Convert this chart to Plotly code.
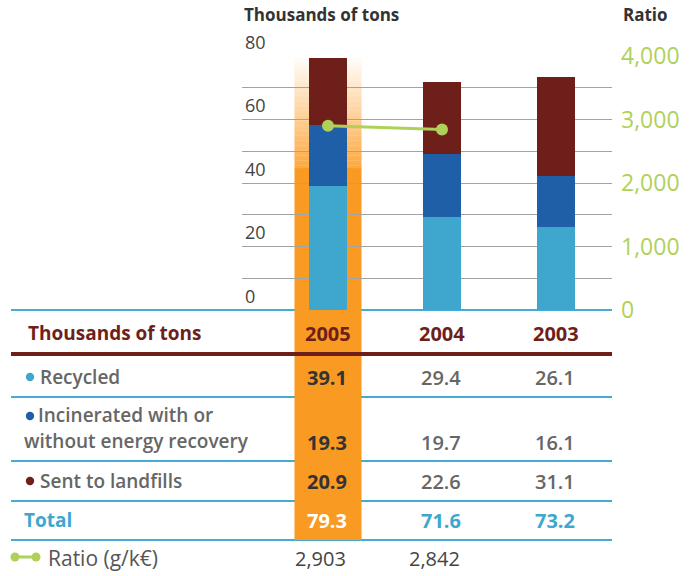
import plotly.graph_objects as go

# ---- data -------------------------------------------------------------
years = ["2005", "2004", "2003"]
recycled = [39.1, 29.4, 26.1]
incinerated = [19.3, 19.7, 16.1]
landfill = [20.9, 22.6, 31.1]
totals = [79.3, 71.6, 73.2]
ratio = [2903, 2842]
ratio_years = ["2005", "2004"]
ratio_labels = ["2,903", "2,842"]

left_ticks = [0, 20, 40, 60, 80]
grid_ticks = [10, 20, 30, 40, 50, 60, 70, 80]
right_ticks = [0, 1000, 2000, 3000, 4000]
right_tick_labels = ["0", "1,000", "2,000", "3,000", "4,000"]

# ---- styling ----------------------------------------------------------
W, H = 691, 576
C_RECYCLED = "#3FA7CD"
C_INCIN = "#1E5FA7"
C_LANDFILL = "#6E1F1A"
C_ORANGE = "#F99B22"
C_GREEN = "#AFD15A"
C_LINE_BLUE = "#45ABD3"
C_TEXT = "#666666"
C_DARK = "#333333"
FONT = "Open Sans"


def px(x):
    return x / W


def py(y):
    return 1 - y / H


fig = go.Figure()

fig.add_trace(go.Bar(x=years, y=recycled, name="Recycled",
                     marker=dict(color=C_RECYCLED, line=dict(width=0)), width=0.333))
fig.add_trace(go.Bar(x=years, y=incinerated, name="Incinerated",
                     marker=dict(color=C_INCIN, line=dict(width=0)), width=0.333))
fig.add_trace(go.Bar(x=years, y=landfill, name="Sent to landfills",
                     marker=dict(color=C_LANDFILL, line=dict(width=0)), width=0.333))
fig.add_trace(go.Scatter(x=ratio_years, y=ratio, yaxis="y2", mode="lines+markers",
                         line=dict(color=C_GREEN, width=3),
                         marker=dict(color=C_GREEN, size=12), name="Ratio"))

shapes = []

# table rule lines (blue), drawn beneath the highlighted column
for yy in [310, 397, 461, 501, 540]:
    shapes.append(dict(type="line", xref="paper", yref="paper",
                       x0=px(11), x1=px(612), y0=py(yy), y1=py(yy),
                       line=dict(color=C_LINE_BLUE, width=2), layer="below"))

# highlighted 2005 column: solid part plus a fading top
half = 0.294
shapes.append(dict(type="rect", xref="x", yref="paper",
                   x0=-half, x1=half, y0=py(540), y1=py(168),
                   fillcolor=C_ORANGE, line=dict(width=0), layer="below"))
n_strips = 44
top, bottom = 58.0, 168.0
c_top = (255, 253, 250)
c_bot = (253, 168, 64)
for i in range(n_strips):
    y0 = top + (bottom - top) * i / n_strips
    y1 = top + (bottom - top) * (i + 1) / n_strips
    t = (i + 0.5) / n_strips
    r, g, b = [round(a + (c - a) * t) for a, c in zip(c_top, c_bot)]
    shapes.append(dict(type="rect", xref="x", yref="paper",
                       x0=-half, x1=half, y0=py(y1 + 0.3), y1=py(y0),
                       fillcolor=f"rgb({r},{g},{b})", line=dict(width=0), layer="below"))

# header rule (dark red) over the column
shapes.append(dict(type="line", xref="paper", yref="paper",
                   x0=px(11), x1=px(612), y0=py(354), y1=py(354),
                   line=dict(color=C_LANDFILL, width=4), layer="below"))

# bullet dots of the row labels
for yy, col in [(377, C_RECYCLED), (416, C_INCIN), (481, C_LANDFILL)]:
    r = 4.2
    shapes.append(dict(type="circle", xref="paper", yref="paper",
                       x0=px(30 - r), x1=px(30 + r), y0=py(yy + r), y1=py(yy - r),
                       fillcolor=col, line=dict(width=0)))

# ratio legend icon
shapes.append(dict(type="line", xref="paper", yref="paper",
                   x0=px(12), x1=px(38), y0=py(557), y1=py(557),
                   line=dict(color=C_GREEN, width=3)))
for xx in [15, 36]:
    r = 4.5
    shapes.append(dict(type="circle", xref="paper", yref="paper",
                       x0=px(xx - r), x1=px(xx + r), y0=py(557 + r), y1=py(557 - r),
                       fillcolor=C_GREEN, line=dict(width=0)))

annotations = []


def note(text, x, y, size, color, weight="normal", xanchor="left", xref="paper", xshift=0):
    annotations.append(dict(text=text, x=x, y=py(y), xref=xref, yref="paper",
                            xanchor=xanchor, yanchor="middle", showarrow=False,
                            xshift=xshift,
                            font=dict(family=FONT, size=size, color=color, weight=weight)))


# axis titles
note("Thousands of tons", px(242), 14, 17, C_DARK, "bold")
note("Ratio", px(621), 14, 17, C_DARK, "bold")

# table header (columns follow the category positions of the x axis)
for i, yr in enumerate(years):
    note(yr, i, 333, 20, C_LANDFILL, "bold", xanchor="center", xref="x")
note("Thousands of tons", px(26), 333, 19, C_LANDFILL, "bold")

# row labels
note("Recycled", px(38), 377, 19, C_TEXT, 600)
note("Incinerated with or", px(36), 415, 19, C_TEXT, 600)
note("without energy recovery", px(22), 441, 19, C_TEXT, 600)
note("Sent to landfills", px(38), 481, 19, C_TEXT, 600)
note("Total", px(22), 520, 19, C_RECYCLED, "bold")
note("Ratio (g/k€)", px(46), 558, 21, "#555555", "normal")

# values, right-aligned on each column
rows = [(recycled, 377), (incinerated, 442), (landfill, 481)]
for vals, yy in rows:
    for i, v in enumerate(vals):
        if i == 0:
            note(f"{v:.1f}", i, yy, 20, C_DARK, "bold", xanchor="right", xref="x", xshift=21)
        else:
            note(f"{v:.1f}", i, yy, 20, C_TEXT, 600, xanchor="right", xref="x", xshift=21)
for i, v in enumerate(totals):
    note(f"{v:.1f}", i, 520, 20, "#FFFFFF" if i == 0 else C_RECYCLED, "bold",
         xanchor="right", xref="x", xshift=21)
for i, lab in enumerate(ratio_labels):
    note(lab, i, 558, 20, "#444444", "normal", xanchor="right", xref="x", xshift=20)

fig.update_layout(
    width=W, height=H, margin=dict(l=0, r=0, t=0, b=0),
    paper_bgcolor="white", plot_bgcolor="rgba(0,0,0,0)",
    barmode="stack", showlegend=False, bargap=0,
    shapes=shapes, annotations=annotations,
    xaxis=dict(domain=[px(242), px(612)], type="category",
               categoryorder="array", categoryarray=years,
               range=[-(328 - 242) / 114, (612 - 328) / 114],
               showticklabels=False, showgrid=False, zeroline=False,
               showline=False, ticks="", automargin=False),
    yaxis=dict(domain=[py(310), py(56)], range=[0, 80],
               tickvals=left_ticks, ticklabelposition="inside top",
               ticklabelshift=-1, ticklabeloverflow="allow", automargin=False,
               tickfont=dict(family=FONT, size=18, color="#444444"),
               showgrid=False, zeroline=False, showline=False, ticks="",
               minor=dict(tickvals=grid_ticks, showgrid=True,
                          gridcolor="#A3A3A3", gridwidth=1.4, ticks="")),
    yaxis2=dict(overlaying="y", side="right", anchor="x", range=[0, 4000],
                tickvals=right_ticks, ticktext=right_tick_labels,
                tickfont=dict(family=FONT, size=23, color=C_GREEN, weight=500),
                ticklabelstandoff=8, automargin=False,
                showgrid=False, zeroline=False, showline=False, ticks=""),
)

fig.write_html("out.html")
